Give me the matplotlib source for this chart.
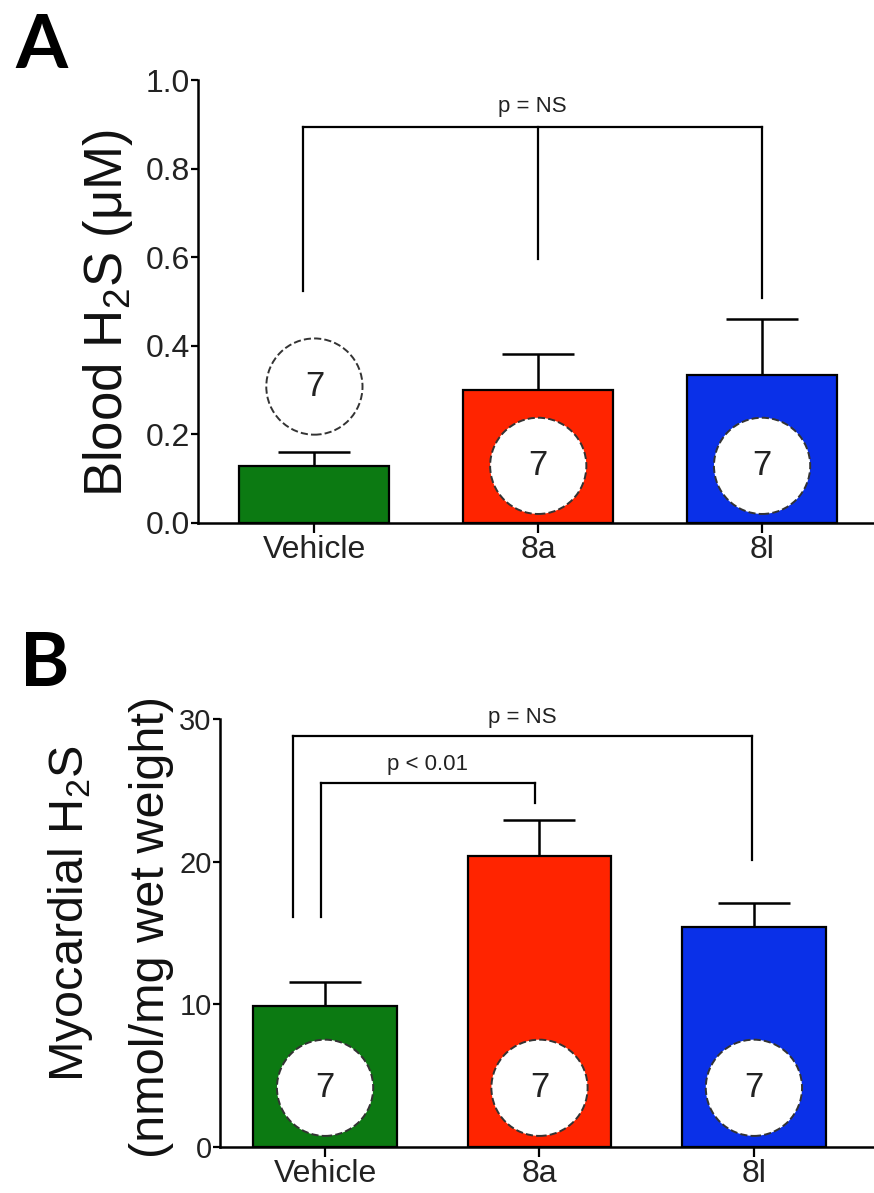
import numpy as np
import matplotlib
matplotlib.use("Agg")
from matplotlib import pyplot as plt

plt.rcParams['font.family'] = ['Liberation Sans', 'DejaVu Sans']
plt.rcParams['mathtext.fontset'] = 'custom'
plt.rcParams['mathtext.rm'] = 'Liberation Sans'
plt.rcParams['mathtext.it'] = 'Liberation Sans'

groups = ["Vehicle", "8a", "8l"]
colors = ["#0c7a12", "#ff2400", "#0a30e8"]
n_labels = ["7", "7", "7"]

# panel A: blood H2S (uM)
blood_mean = [0.129, 0.300, 0.334]
blood_sem = [0.032, 0.082, 0.127]
blood_circle_y = [0.308, 0.129, 0.129]

# panel B: myocardial H2S (nmol/mg wet weight)
myo_mean = [9.86, 20.4, 15.4]
myo_sem = [1.70, 2.5, 1.7]
myo_circle_y = [4.15, 4.15, 4.15]

# brackets: (x positions, leg bottoms, top, label)
blood_brackets = [([-0.05, 1.0, 2.0], [0.523, 0.596, 0.507], 0.895, "p = NS")]
myo_brackets = [([-0.15, 1.99], [16.1, 20.1], 28.8, "p = NS"),
                ([-0.02, 0.98], [16.1, 24.1], 25.5, "p < 0.01")]


def panel(ax, means, sems, circ_y, brackets, ylim, yticks, ytl, xlim, label_off, ytsize):
    x = np.arange(len(groups))
    ax.bar(x, means, width=0.67, color=colors, edgecolor="black", linewidth=1.6, zorder=2)
    ax.errorbar(x, means, yerr=[np.zeros(len(x)), sems], fmt="none", ecolor="black",
                elinewidth=1.8, capsize=26, capthick=1.8, zorder=1)
    ax.scatter(x, circ_y, s=4800, facecolor="white", edgecolor="#333333",
               linewidths=1.4, linestyle="--", zorder=3)
    for xi, yi, t in zip(x, circ_y, n_labels):
        ax.text(xi, yi, t, ha="center", va="center", fontsize=25, color="#222222", zorder=4)
    for xs, legs, top, txt in brackets:
        ax.plot([xs[0], xs[-1]], [top, top], color="black", lw=1.6)
        for xb, yb in zip(xs, legs):
            ax.plot([xb, xb], [yb, top], color="black", lw=1.6)
        ax.text((xs[0] + xs[-1]) / 2, top + label_off, txt, ha="center", va="bottom",
                fontsize=16, color="#222222")
    ax.set_xlim(*xlim)
    ax.set_ylim(*ylim)
    ax.set_yticks(yticks)
    ax.set_yticklabels(ytl)
    ax.set_xticks(x)
    ax.set_xticklabels(["Vehicle", "8a", "8l"])
    ax.tick_params(axis="y", labelsize=ytsize, length=5, width=1.6, labelcolor="#222222", pad=1)
    ax.tick_params(axis="x", labelsize=23, length=7, width=1.6, labelcolor="#222222", pad=2)
    for s in ["top", "right"]:
        ax.spines[s].set_visible(False)
    for s in ["left", "bottom"]:
        ax.spines[s].set_linewidth(1.8)


fig = plt.figure(figsize=(8.74, 11.93), dpi=100)
axA = fig.add_axes([198 / 874, 1 - 523 / 1193, 676 / 874, 443 / 1193])
axB = fig.add_axes([220 / 874, 1 - 1147 / 1193, 654 / 874, 428 / 1193])

panel(axA, blood_mean, blood_sem, blood_circle_y, blood_brackets, (0, 1.0),
      [0, 0.2, 0.4, 0.6, 0.8, 1.0], ["0.0", "0.2", "0.4", "0.6", "0.8", "1.0"],
      (-0.52, 2.5), 0.022, 23)
panel(axB, myo_mean, myo_sem, myo_circle_y, myo_brackets, (0, 30),
      [0, 10, 20, 30], ["0", "10", "20", "30"],
      (-0.49, 2.56), 0.6, 21)

lab = dict(rotation=90, rotation_mode="anchor", ha="center", va="baseline", color="#111111")
fig.text(122 / 874, 1 - 313 / 1193, r"Blood H$_2$S ($\mu$M)", fontsize=38, **lab)
fig.text(83 / 874, 1 - 914 / 1193, r"Myocardial H$_2$S", fontsize=35, **lab)
fig.text(164 / 874, 1 - 927 / 1193, "(nmol/mg wet weight)", fontsize=35, **lab)

fig.text(41 / 874, 1 - 47 / 1193, "A", fontsize=54, fontweight="bold", family="Lato",
         ha="center", va="center")
fig.text(45 / 874, 1 - 665 / 1193, "B", fontsize=54, fontweight="bold", family="Lato",
         ha="center", va="center")

fig.savefig("out.png", dpi=100)
